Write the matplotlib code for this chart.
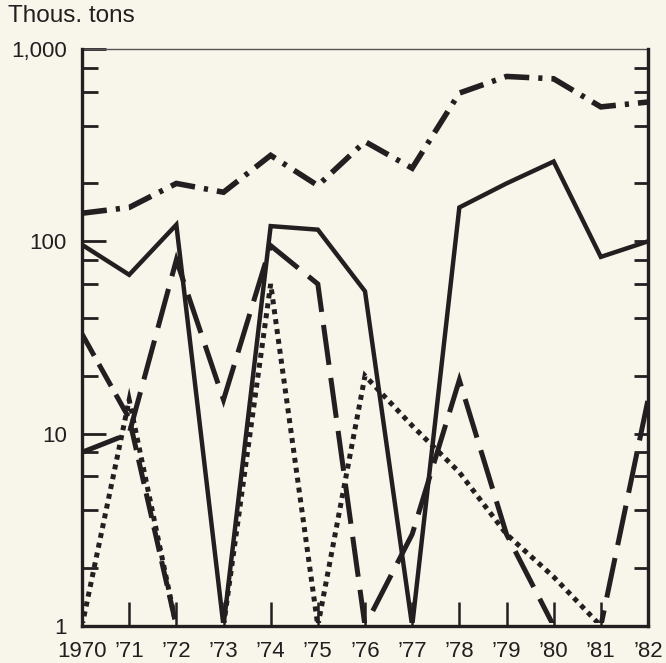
import numpy as np
import matplotlib
matplotlib.use("Agg")
import matplotlib.pyplot as plt
from matplotlib.patches import Rectangle
from matplotlib.ticker import FixedLocator, NullFormatter

plt.rcParams['font.family'] = ['Liberation Sans', 'DejaVu Sans']
plt.rcParams['lines.scale_dashes'] = False

years = np.arange(1970, 1983)
year_labels = ["1970", "’71", "’72", "’73", "’74", "’75", "’76",
               "’77", "’78", "’79", "’80", "’81", "’82"]

solid = [96, 67, 122, 1, 120, 115, 55, 1, 150, 200, 260, 83, 100]
dash_dot = [140, 150, 200, 180, 280, 195, 330, 240, 590, 720, 700, 500, 530]
long_dash = [8, 10, 80, 15, 95, 60, 1, 3, 19, 3, 1, 1, 15]
short_dash_years = [1970, 1971, 1972]
short_dash = [33, 12, 1]
dotted = [1, 15, 1, 1, 60, 1, 20, 11, 6.3, 3, 1.8, 1, 1]

ink = "#231f20"
bg = "#f8f6ea"

fig = plt.figure(figsize=(6.66, 6.63), dpi=100, facecolor=bg)
ax = fig.add_axes([82 / 666, 1 - 626 / 663, 566 / 666, 577 / 663])
ax.set_facecolor(bg)

# keep lines lying on the baseline hidden under the bottom spine
clip = Rectangle((0, 0.0058), 1, 1.2, transform=ax.transAxes)

kw = dict(color=ink, solid_joinstyle="miter", dash_capstyle="butt",
          dash_joinstyle="miter")
lines = []
lines += ax.plot(years, dash_dot, lw=4.0, dashes=(18, 6.5, 3, 6.5), **kw)
lines += ax.plot(years, solid, lw=3.2, **kw)
lines += ax.plot(years, long_dash, lw=3.6, dashes=(29, 9.5), **kw)
lines += ax.plot(short_dash_years, short_dash, lw=3.6, dashes=(18, 7), **kw)
lines += ax.plot(years, dotted, lw=3.6, dashes=(3.6, 3.6), **kw)
for ln in lines:
    ln.set_clip_path(clip)

ax.set_yscale("log")
ax.set_ylim(1, 1000)
ax.set_xlim(1970, 1982)

# y axis: decades labelled, 2-4-6-8 minor ticks inside
ax.yaxis.set_major_locator(FixedLocator([1, 10, 100, 1000]))
ax.set_yticklabels(["1", "10", "100", "1,000"])
minors = [m * d for d in (1, 10, 100) for m in (2, 4, 6, 8)]
ax.yaxis.set_minor_locator(FixedLocator(minors))
ax.yaxis.set_minor_formatter(NullFormatter())
ax.tick_params(axis="y", which="major", direction="in", length=17,
               width=2.0, color=ink, labelsize=16, pad=11, labelcolor=ink)
ax.tick_params(axis="y", which="minor", direction="in", length=11.5,
               width=2.0, color=ink)

# shorter ticks on the right edge
right = ax.secondary_yaxis("right")
right.yaxis.set_major_locator(FixedLocator([10, 100]))
right.yaxis.set_minor_locator(FixedLocator(minors))
right.yaxis.set_major_formatter(NullFormatter())
right.yaxis.set_minor_formatter(NullFormatter())
right.tick_params(which="both", direction="in", length=10, width=2.0,
                  color=ink)
right.spines["right"].set_linewidth(2.2)
right.spines["right"].set_color(ink)

ax.set_xticks(years)
ax.set_xticklabels(year_labels)
ax.tick_params(axis="x", which="major", direction="in", length=17,
               width=1.8, color=ink, labelsize=16, pad=10.5,
               labelcolor=ink)
ax.tick_params(axis="x", which="minor", bottom=False)

for side in ("left", "right", "bottom"):
    ax.spines[side].set_linewidth(2.4)
    ax.spines[side].set_color(ink)
    ax.spines[side].set_zorder(5)
ax.spines["top"].set_linewidth(1.0)
ax.spines["top"].set_color("#555555")

fig.text(8 / 666, 1 - 16 / 663, "Thous. tons", fontsize=17.5, color=ink,
         va="center", ha="left")

fig.savefig("out.png", dpi=100, facecolor=bg)
